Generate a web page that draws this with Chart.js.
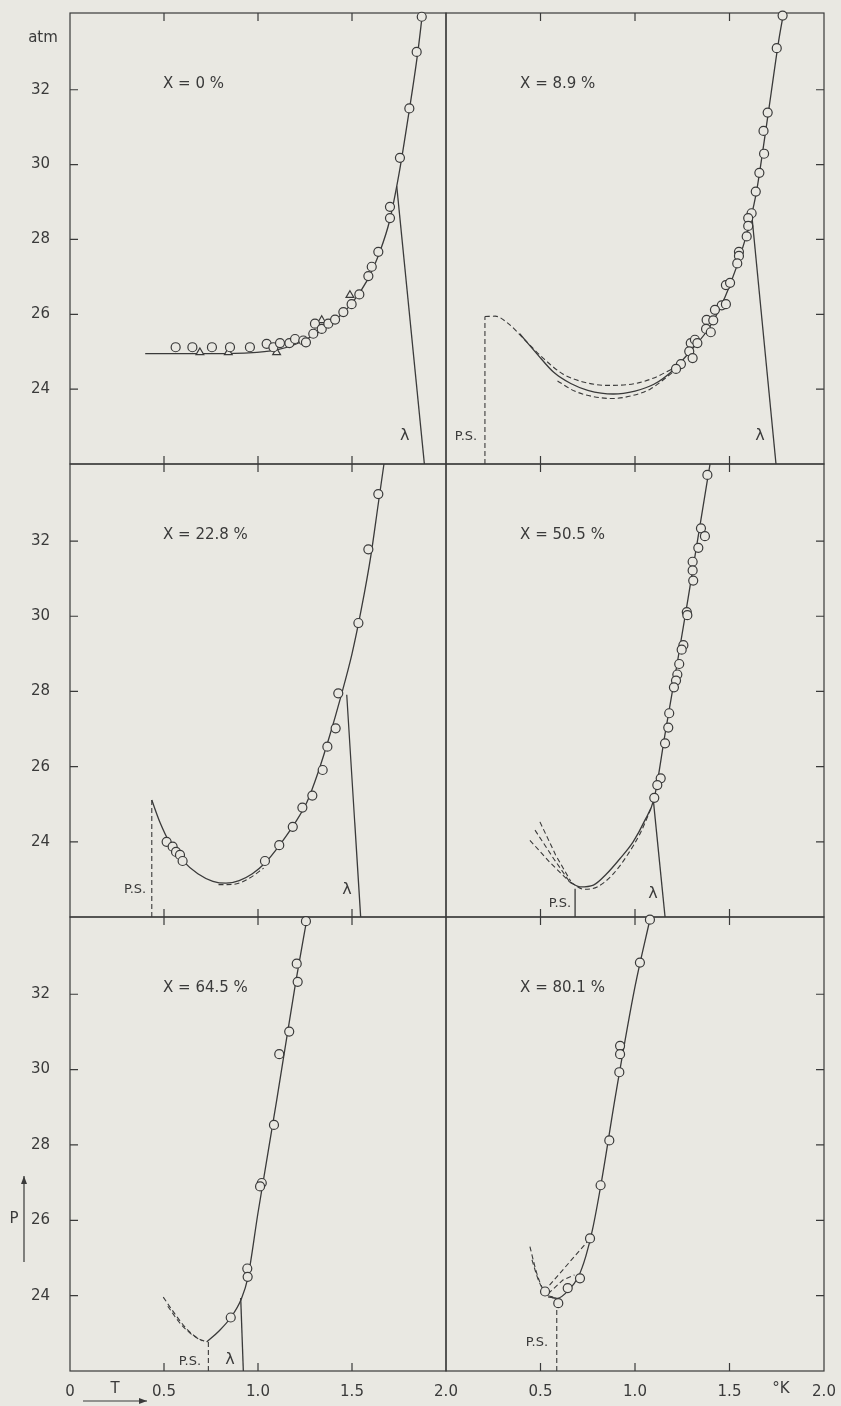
<!DOCTYPE html>
<html>
<head>
<meta charset="utf-8">
<script src="https://cdn.jsdelivr.net/npm/chart.js@4.4.1/dist/chart.umd.min.js"></script>
<style>
  html, body { margin: 0; padding: 0; background: #e9e8e2; }
  #wrap { position: relative; width: 841px; height: 1406px; overflow: hidden; }
  #wrap canvas { position: absolute; left: 0; top: 0; }
</style>
</head>
<body>
<div id="wrap"></div>
<script>
// axis ticks
const xTickValues = [0.5, 1.0, 1.5];
const yTickValues = [24, 26, 28, 30, 32];
const panelLabels = ['X = 0 %', 'X = 8.9 %', 'X = 22.8 %', 'X = 50.5 %', 'X = 64.5 %', 'X = 80.1 %'];

// X = 0 %   [T (K), P (atm)]
const x0Circles = [[0.562,25.12],[0.651,25.12],[0.755,25.12],[0.851,25.12],[0.957,25.12],
  [1.046,25.21],[1.082,25.12],[1.117,25.23],[1.167,25.23],[1.197,25.34],[1.241,25.30],
  [1.255,25.25],[1.294,25.48],[1.303,25.75],[1.339,25.61],[1.374,25.75],[1.410,25.86],
  [1.454,26.06],[1.498,26.27],[1.539,26.53],[1.587,27.02],[1.605,27.27],[1.640,27.67],
  [1.702,28.57],[1.702,28.87],[1.755,30.18],[1.805,31.50],[1.844,33.01],[1.871,33.95]];
const x0Triangles = [[0.691,24.98],[0.842,24.98],[1.099,24.98],[1.339,25.84],[1.489,26.51]];
const x0Curve = [[0.40,24.95],[0.70,24.95],[0.95,24.97],[1.10,25.05],[1.20,25.20],[1.30,25.45],
  [1.40,25.80],[1.50,26.30],[1.58,26.90],[1.65,27.70],[1.70,28.50],[1.75,29.75],[1.80,31.30],
  [1.85,33.00],[1.875,34.05]];
const x0Lambda = [[1.738,29.42],[1.885,22.0]];

// X = 8.9 %
const x89Circles = [[1.781,33.98],[1.750,33.11],[1.702,31.39],[1.680,30.90],[1.683,30.29],
  [1.658,29.78],[1.639,29.28],[1.617,28.70],[1.599,28.57],[1.599,28.36],[1.591,28.08],
  [1.550,27.67],[1.550,27.56],[1.541,27.36],[1.481,26.78],[1.503,26.84],[1.459,26.24],
  [1.481,26.27],[1.423,26.12],[1.379,25.85],[1.414,25.84],[1.376,25.61],[1.401,25.52],
  [1.295,25.23],[1.317,25.32],[1.330,25.23],[1.287,25.01],[1.305,24.83],[1.243,24.67],[1.217,24.54]];
const x89Curve = [[0.39,25.48],[0.48,24.95],[0.57,24.45],[0.66,24.15],[0.75,23.97],[0.885,23.87],
  [1.00,23.95],[1.10,24.13],[1.20,24.50],[1.29,25.00],[1.40,25.70],[1.50,26.75],[1.58,27.95],
  [1.64,29.20],[1.68,30.50],[1.72,31.90],[1.76,33.30],[1.786,34.05]];
const x89DashUpper = [[0.206,25.94],[0.26,25.95],[0.33,25.75],[0.42,25.30],[0.52,24.80],[0.62,24.40],
  [0.72,24.20],[0.85,24.10],[1.00,24.15],[1.10,24.30],[1.20,24.55]];
const x89DashLower = [[0.59,24.22],[0.68,23.95],[0.78,23.80],[0.88,23.75],[0.98,23.82],[1.08,24.00],[1.20,24.45]];
const x89PS = [[0.206,22.0],[0.206,25.94]];
const x89Lambda = [[1.617,28.70],[1.746,22.0]];

// X = 22.8 %
const x228Circles = [[1.640,33.25],[1.587,31.78],[1.534,29.82],[1.427,27.95],[1.413,27.02],
  [1.369,26.53],[1.344,25.91],[1.289,25.23],[1.236,24.91],[1.185,24.40],[1.113,23.91],
  [1.037,23.49],[0.514,24.00],[0.546,23.87],[0.564,23.73],[0.585,23.65],[0.599,23.49]];
const x228Curve = [[0.435,25.11],[0.48,24.50],[0.53,23.98],[0.60,23.50],[0.68,23.15],[0.76,22.95],
  [0.83,22.90],[0.90,22.97],[0.97,23.15],[1.04,23.45],[1.11,23.88],[1.19,24.45],[1.26,25.05],
  [1.32,25.85],[1.38,26.80],[1.44,27.85],[1.50,29.00],[1.55,30.20],[1.60,31.60],[1.64,33.00],[1.67,34.05]];
const x228Dash = [[0.79,22.86],[0.87,22.87],[0.95,23.02],[1.03,23.30]];
const x228PS = [[0.435,22.0],[0.435,25.11]];
const x228Lambda = [[1.472,27.91],[1.546,22.0]];

// X = 50.5 %
const x505Circles = [[1.383,33.76],[1.349,32.34],[1.370,32.13],[1.335,31.82],[1.305,31.45],
  [1.305,31.22],[1.308,30.95],[1.274,30.11],[1.277,30.03],[1.256,29.23],[1.247,29.11],
  [1.234,28.73],[1.224,28.45],[1.217,28.29],[1.206,28.11],[1.181,27.42],[1.176,27.04],
  [1.159,26.62],[1.136,25.69],[1.118,25.51],[1.102,25.17]];
const x505Curve = [[0.655,22.93],[0.71,22.80],[0.78,22.85],[0.85,23.15],[0.92,23.55],[0.99,24.00],
  [1.05,24.55],[1.102,25.17],[1.16,26.90],[1.22,28.65],[1.28,30.45],[1.34,32.30],[1.397,34.05]];
const x505DashA = [[0.444,24.04],[0.55,23.45],[0.655,22.93]];
const x505DashB = [[0.471,24.31],[0.57,23.55],[0.655,22.93]];
const x505DashC = [[0.497,24.53],[0.58,23.65],[0.66,22.95]];
const x505DashD = [[0.66,22.92],[0.73,22.74],[0.80,22.80],[0.88,23.12],[0.96,23.65],[1.03,24.25],[1.09,24.95]];
const x505PS = [[0.683,22.0],[0.683,22.75]];
const x505Lambda = [[1.097,25.11],[1.159,22.0]];

// X = 64.5 %
const x645Circles = [[1.255,33.94],[1.206,32.81],[1.211,32.33],[1.166,31.01],[1.113,30.41],
  [1.085,28.53],[1.020,26.99],[1.011,26.90],[0.943,24.72],[0.945,24.50],[0.855,23.42]];
const x645Curve = [[0.727,22.77],[0.79,23.05],[0.855,23.42],[0.91,23.90],[0.945,24.45],[1.00,26.20],
  [1.10,29.20],[1.20,32.30],[1.262,34.05]];
const x645DashA = [[0.496,23.96],[0.56,23.50],[0.62,23.12],[0.68,22.87],[0.727,22.77]];
const x645DashB = [[0.52,23.72],[0.58,23.30],[0.64,23.00],[0.70,22.80]];
const x645PS = [[0.736,22.0],[0.736,22.77]];
const x645Lambda = [[0.908,23.94],[0.922,22.0]];

// X = 80.1 %
const x801Circles = [[1.079,33.98],[1.026,32.84],[0.921,30.63],[0.921,30.41],[0.917,29.93],
  [0.864,28.12],[0.818,26.93],[0.762,25.52],[0.709,24.46],[0.644,24.20],[0.594,23.80],[0.524,24.11]];
const x801Curve = [[0.54,23.97],[0.59,23.93],[0.65,24.15],[0.70,24.50],[0.74,25.05],[0.775,25.75],
  [0.82,26.95],[0.90,29.40],[1.00,32.20],[1.082,34.05]];
const x801DashA = [[0.444,25.30],[0.48,24.60],[0.51,24.20],[0.545,23.98],[0.59,23.93]];
const x801DashB = [[0.455,24.95],[0.49,24.40],[0.53,24.05],[0.57,23.95]];
const x801DashC = [[0.52,24.12],[0.76,25.50]];
const x801DashD = [[0.54,24.05],[0.62,24.42],[0.68,24.55]];
const x801PS = [[0.586,22.0],[0.586,23.90]];

const INK = '#3a3a3a';
const BG = '#e9e8e2';
const FONT = 'DejaVu Sans';

// panel frame positions on the page
const rowTop = [13, 464, 917];
const rowBottom = [464, 917, 1371];
const colLeft = [70, 446];
const colRight = [446, 824];

const pts = a => a.map(p => ({x: p[0], y: p[1]}));

function circles(d) {
  return {data: pts(d), showLine: false, pointStyle: 'circle', pointRadius: 4.5,
    borderColor: INK, backgroundColor: BG, borderWidth: 1.2, clip: false, order: 0};
}
function triangles(d) {
  return {data: pts(d), showLine: false, pointStyle: 'triangle', pointRadius: 4.5,
    borderColor: INK, backgroundColor: BG, borderWidth: 1.2, clip: false, order: 0};
}
function line(d, dashed, curved) {
  return {data: pts(d), showLine: true, pointRadius: 0, borderColor: INK,
    borderWidth: dashed ? 1.1 : 1.3, borderDash: dashed ? [5, 3] : [],
    cubicInterpolationMode: curved ? 'monotone' : 'default', tension: 0, clip: false, order: 1};
}

const panels = [
  {row: 0, col: 0, datasets: [circles(x0Circles), triangles(x0Triangles), line(x0Curve, false, true), line(x0Lambda, false, false)],
   texts: [['λ', 1.78, 22.75, 'center']]},
  {row: 0, col: 1, datasets: [circles(x89Circles), line(x89Curve, false, true), line(x89DashUpper, true, true),
     line(x89DashLower, true, true), line(x89PS, true, false), line(x89Lambda, false, false)],
   texts: [['P.S.', 0.106, 22.74, 'center'], ['λ', 1.661, 22.74, 'center']]},
  {row: 1, col: 0, datasets: [circles(x228Circles), line(x228Curve, false, true), line(x228Dash, true, true),
     line(x228PS, true, false), line(x228Lambda, false, false)],
   texts: [['P.S.', 0.346, 22.72, 'center'], ['λ', 1.473, 22.72, 'center']]},
  {row: 1, col: 1, datasets: [circles(x505Circles), line(x505Curve, false, true), line(x505DashA, true, false),
     line(x505DashB, true, false), line(x505DashC, true, false), line(x505DashD, true, true),
     line(x505PS, false, false), line(x505Lambda, false, false)],
   texts: [['P.S.', 0.603, 22.35, 'center'], ['λ', 1.095, 22.61, 'center']]},
  {row: 2, col: 0, datasets: [circles(x645Circles), line(x645Curve, false, true), line(x645DashA, true, true),
     line(x645DashB, true, true), line(x645PS, true, false), line(x645Lambda, false, false)],
   texts: [['P.S.', 0.638, 22.25, 'center'], ['λ', 0.851, 22.3, 'center']]},
  {row: 2, col: 1, datasets: [circles(x801Circles), line(x801Curve, false, true), line(x801DashA, true, true),
     line(x801DashB, true, true), line(x801DashC, true, false), line(x801DashD, true, false),
     line(x801PS, true, false)],
   texts: [['P.S.', 0.481, 22.75, 'center']]}
];

function arrow(ctx, x1, y1, x2, y2) {
  ctx.beginPath();
  ctx.moveTo(x1, y1); ctx.lineTo(x2, y2); ctx.stroke();
  const a = Math.atan2(y2 - y1, x2 - x1);
  ctx.beginPath();
  ctx.moveTo(x2, y2);
  ctx.lineTo(x2 - 8 * Math.cos(a) + 3 * Math.sin(a), y2 - 8 * Math.sin(a) - 3 * Math.cos(a));
  ctx.lineTo(x2 - 8 * Math.cos(a) - 3 * Math.sin(a), y2 - 8 * Math.sin(a) + 3 * Math.cos(a));
  ctx.closePath(); ctx.fill();
}

function makeDecor(p, idx) {
  return {
    id: 'decor' + idx,
    beforeDatasetsDraw(chart) {
      const {ctx, chartArea: a, scales: {x, y}} = chart;
      ctx.save();
      ctx.strokeStyle = INK;
      ctx.lineWidth = 1.2;
      ctx.strokeRect(a.left, a.top, a.right - a.left, a.bottom - a.top);
      ctx.beginPath();
      xTickValues.forEach(v => {
        const px = x.getPixelForValue(v);
        ctx.moveTo(px, a.top); ctx.lineTo(px, a.top + 8);
        ctx.moveTo(px, a.bottom); ctx.lineTo(px, a.bottom - 8);
      });
      yTickValues.forEach(v => {
        const py = y.getPixelForValue(v);
        if (p.col === 0) { ctx.moveTo(a.left, py); ctx.lineTo(a.left + 8, py); }
        else { ctx.moveTo(a.right, py); ctx.lineTo(a.right - 8, py); }
      });
      ctx.stroke();
      ctx.restore();
    },
    afterDraw(chart) {
      const {ctx, scales: {x, y}} = chart;
      ctx.save();
      ctx.fillStyle = INK;
      ctx.strokeStyle = INK;
      ctx.textBaseline = 'middle';
      ctx.font = '15px "' + FONT + '"';
      ctx.textAlign = 'left';
      ctx.fillText(panelLabels[idx], x.getPixelForValue(p.col === 0 ? 0.495 : 0.392), y.getPixelForValue(32.15));
      p.texts.forEach(t => {
        ctx.font = (t[0] === 'λ' ? '16px "' : '13px "') + FONT + '"';
        ctx.textAlign = t[3];
        ctx.fillText(t[0], x.getPixelForValue(t[1]), y.getPixelForValue(t[2]));
      });
      ctx.font = '15px "' + FONT + '"';
      ctx.textAlign = 'center';
      if (idx === 0) ctx.fillText('atm', 43, 38);
      if (idx === 4) {
        ctx.fillText('P', 14, 1219);
        ctx.fillText('T', 115, 1389);
        ctx.lineWidth = 1.2;
        arrow(ctx, 24, 1262, 24, 1176);
        arrow(ctx, 83, 1401, 147, 1401);
      }
      if (idx === 5) ctx.fillText('°K', 781, 1389);
      ctx.restore();
    }
  };
}

// keep the axes from pushing the plot area around
function noPad(s) {
  s.paddingTop = 0; s.paddingBottom = 0; s.paddingLeft = 0; s.paddingRight = 0;
}

const wrap = document.getElementById('wrap');
panels.forEach((p, idx) => {
  const cv = document.createElement('canvas');
  cv.width = 841; cv.height = 1406;
  wrap.appendChild(cv);
  const showY = p.col === 0;
  const showX = p.row === 2;
  new Chart(cv.getContext('2d'), {
    type: 'scatter',
    data: {datasets: p.datasets},
    options: {
      responsive: false,
      animation: false,
      events: [],
      layout: {padding: {
        left: showY ? 0 : colLeft[p.col],
        right: 841 - colRight[p.col],
        top: rowTop[p.row],
        bottom: showX ? 0 : 1406 - rowBottom[p.row]
      }},
      plugins: {legend: {display: false}, tooltip: {enabled: false}},
      scales: {
        x: {
          type: 'linear', min: 0, max: 2, display: showX, position: 'bottom',
          grid: {display: false}, border: {display: false},
          ticks: {stepSize: 0.5, autoSkip: false, includeBounds: false, maxRotation: 0,
            padding: 4, color: INK, font: {family: FONT, size: 15},
            callback: v => (v === 0 ? (p.col === 0 ? '0' : '') : v.toFixed(1))},
          afterFit: s => { if (showX) { s.height = 1406 - rowBottom[2]; } noPad(s); }
        },
        y: {
          type: 'linear', min: 22, max: 34.05, display: showY, position: 'left',
          grid: {display: false}, border: {display: false},
          ticks: {stepSize: 2, includeBounds: false, padding: 12, color: INK,
            font: {family: FONT, size: 15},
            callback: v => (v >= 24 && v <= 32 ? String(v) : '')},
          afterFit: s => { if (showY) { s.width = colLeft[0]; } noPad(s); }
        }
      }
    },
    plugins: [makeDecor(p, idx)]
  });
});
</script>
</body>
</html>
